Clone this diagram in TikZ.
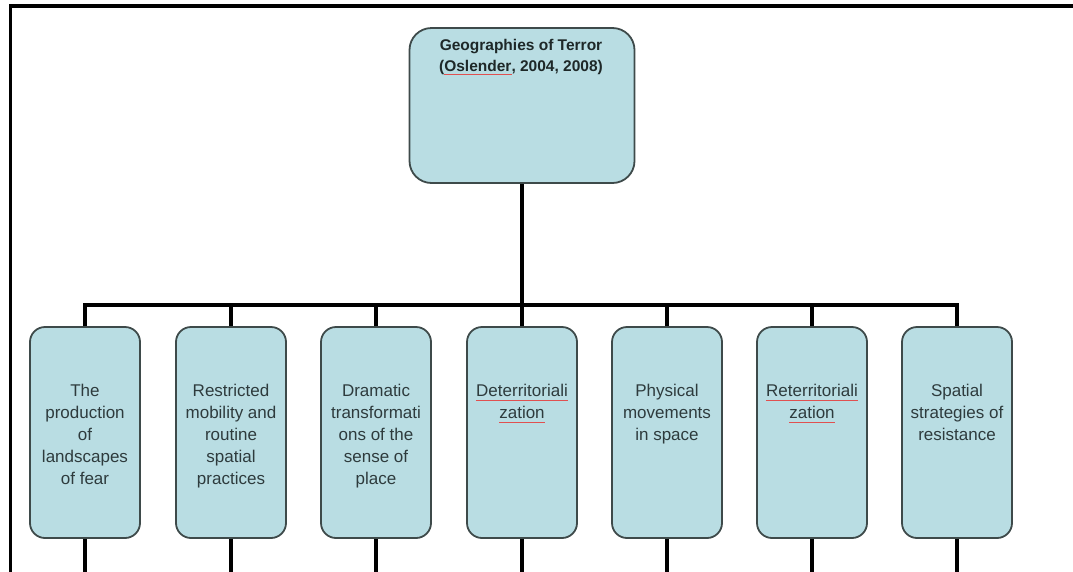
\documentclass[tikz,border=0pt]{standalone}
\usepackage{fontspec}
\setmainfont{Liberation Sans}
\definecolor{boxfill}{HTML}{B9DDE3}
\definecolor{boxline}{HTML}{3E4A4A}
\definecolor{boxtext}{HTML}{2E3B3D}
\definecolor{headtext}{HTML}{1E2828}
\definecolor{spellred}{HTML}{E05050}
% thin red underline as left by a spell checker
\newsavebox{\spellbox}
\newcommand{\spellmark}[1]{\sbox{\spellbox}{#1}\usebox{\spellbox}\llap{\textcolor{spellred}{\rule[-3.5pt]{\wd\spellbox}{1pt}}}}
\begin{document}
\begin{tikzpicture}[x=1pt,y=-1pt,
  headbox/.style={draw=boxline, line width=1.8pt, fill=boxfill, rounded corners=22pt,
    minimum width=225pt, minimum height=155pt, inner sep=0pt},
  topicbox/.style={draw=boxline, line width=1.8pt, fill=boxfill, rounded corners=15pt,
    minimum width=110pt, minimum height=211pt, inner sep=0pt},
  headlabel/.style={anchor=north, inner sep=0pt, align=center, text=headtext,
    font=\fontsize{15.5}{21}\selectfont\bfseries},
  topiclabel/.style={anchor=north, inner sep=0pt, align=center, text=boxtext,
    font=\fontsize{17}{22}\selectfont},
  spellline/.style={draw=spellred, line width=1pt},
  link/.style={draw=black, line width=3.2pt},
  frameline/.style={draw=black, line width=3.6pt}]
\useasboundingbox (0,0) rectangle (1073,571);

% outer frame (top and left edges)
\draw[frameline] (1080,6) -- (10.5,6) -- (10.5,580);

% root
\node[headbox] (root) at (522,105.5) {};
\node[headlabel] (roottext) at (521,39.5) {Geographies of Terror\\(\spellmark{Oslender}, 2004, 2008)};

% topics
\foreach \i/\x in {1/85,2/231,3/376,4/522,5/667,6/812,7/957}{
  \node[topicbox] (b\i) at (\x,432.5) {};
  \coordinate (e\i) at (\x,580);
}
\node[topiclabel] (t1) at (b1.north |- 0,384) {The\\production\\of\\landscapes\\of fear};
\node[topiclabel] (t2) at (b2.north |- 0,384) {Restricted\\mobility and\\routine\\spatial\\practices};
\node[topiclabel] (t3) at (b3.north |- 0,384) {Dramatic\\transformati\\ons of the\\sense of\\place};
\node[topiclabel] (t4) at (b4.north |- 0,384) {Deterritoriali\\zation};
\node[topiclabel] (t5) at (b5.north |- 0,384) {Physical\\movements\\in space};
\node[topiclabel] (t6) at (b6.north |- 0,384) {Reterritoriali\\zation};
\node[topiclabel] (t7) at (b7.north |- 0,384) {Spatial\\strategies of\\resistance};

% spell-check underlines under the two hyphen-split words
\foreach \n in {t4,t6}{
  \draw[spellline] ([yshift=-16pt]\n.north west) -- ([yshift=-16pt]\n.north east);
  \draw[spellline] ([xshift=-22.7pt,yshift=-38pt]\n.north) -- ([xshift=22.7pt,yshift=-38pt]\n.north);
}

% connectors
\coordinate (bus) at (0,305);
\draw[link] (root.south) -- (root.south |- bus);
\draw[link] (b1.north) -- (b1.north |- bus) -- (b7.north |- bus) -- (b7.north);
\foreach \i in {2,...,6}{
  \draw[link] (b\i.north) -- (b\i.north |- bus);
}
\foreach \i in {1,...,7}{
  \draw[link] (b\i.south) -- (e\i);
}
\end{tikzpicture}
\end{document}
